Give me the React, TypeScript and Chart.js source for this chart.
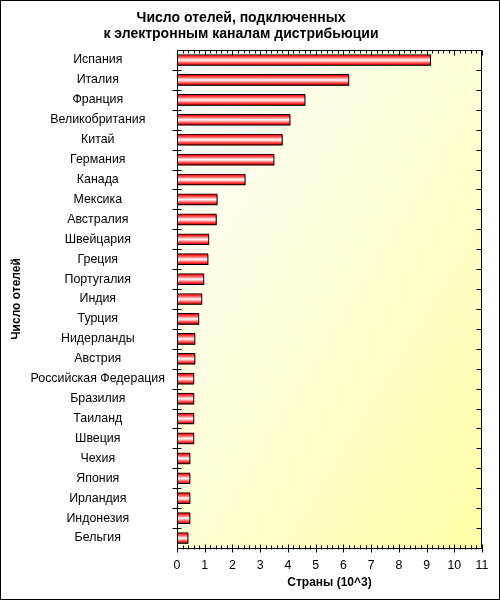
import React, { useEffect, useRef } from "react";
import { Chart, registerables } from "chart.js";

Chart.register(...registerables);

const categories = [
  "Испания", "Италия", "Франция", "Великобритания", "Китай", "Германия", "Канада",
  "Мексика", "Австралия", "Швейцария", "Греция", "Португалия", "Индия", "Турция",
  "Нидерланды", "Австрия", "Российская Федерация", "Бразилия", "Таиланд", "Швеция",
  "Чехия", "Япония", "Ирландия", "Индонезия", "Бельгия",
];
const hotels = [
  9.15, 6.2, 4.62, 4.08, 3.8, 3.5, 2.46, 1.45, 1.42, 1.15, 1.12, 0.97, 0.9, 0.79,
  0.65, 0.65, 0.61, 0.61, 0.61, 0.61, 0.47, 0.47, 0.47, 0.47, 0.4,
];
const titleLines = ["Число отелей, подключенных", "к электронным каналам дистрибьюции"];
const xTitle = "Страны (10^3)";
const yTitle = "Число отелей";
const xMin = 0;
const xMax = 11;

const FONT = "'Liberation Sans', Arial, sans-serif";

const framePlugin = {
  id: "frame",
  beforeDraw(chart: any) {
    const { ctx, chartArea: a } = chart;
    const w = a.right - a.left;
    const h = a.bottom - a.top;
    const k = (2 * w * h) / (w * w + h * h);
    ctx.save();
    const g = ctx.createLinearGradient(a.left, a.top, a.left + h * k, a.top + w * k);
    g.addColorStop(0, "#ffffff");
    g.addColorStop(0.5, "#ffffd6");
    g.addColorStop(1, "#ffffa6");
    ctx.fillStyle = g;
    ctx.fillRect(a.left, a.top, w, h);
    ctx.restore();
  },
  beforeDatasetsDraw(chart: any) {
    const ctx = chart.ctx;
    ctx.save();
    ctx.shadowColor = "rgba(0,0,0,0.6)";
    ctx.shadowOffsetX = 1;
    ctx.shadowOffsetY = 1;
    ctx.shadowBlur = 0;
  },
  afterDatasetsDraw(chart: any) {
    chart.ctx.restore();
  },
  afterDraw(chart: any) {
    const { ctx, chartArea: a, scales } = chart;
    const x = scales.x;
    const y = scales.y;
    ctx.save();
    ctx.strokeStyle = "#000";
    ctx.lineWidth = 1;
    const L = Math.round(a.left) + 0.5;
    const R = Math.round(a.right) - 0.5;
    const T = Math.round(a.top) + 0.5;
    const B = Math.round(a.bottom) + 0.5;
    ctx.beginPath();
    ctx.moveTo(L, T); ctx.lineTo(R, T); ctx.lineTo(R, B); ctx.lineTo(L, B); ctx.closePath();
    ctx.stroke();
    ctx.beginPath();
    for (let i = xMin * 5; i <= xMax * 5; i++) {
      const v = i / 5;
      const px = Math.round(x.getPixelForValue(v)) + 0.5;
      const major = i % 5 === 0;
      ctx.moveTo(px, T);
      ctx.lineTo(px, T + (major ? 5 : 3));
      if (major) {
        ctx.moveTo(px, B - 4);
        ctx.lineTo(px, B + 4);
      } else {
        ctx.moveTo(px, B - 3);
        ctx.lineTo(px, B + 1);
      }
    }
    for (let i = 1; i < categories.length; i++) {
      const py = Math.round((y.getPixelForValue(i - 1) + y.getPixelForValue(i)) / 2) + 0.5;
      ctx.moveTo(L - 5, py);
      ctx.lineTo(L + 4, py);
      ctx.moveTo(R - 5, py);
      ctx.lineTo(R, py);
    }
    ctx.stroke();
    ctx.restore();
  },
};

function barFill(c: any) {
  const chart = c.chart;
  const ys = chart.scales && chart.scales.y;
  if (c.type !== "data" || !ys || ys.top == null) return "#ff6666";
  const center = ys.getPixelForValue(c.dataIndex);
  const g = chart.ctx.createLinearGradient(0, center - 5, 0, center + 5);
  g.addColorStop(0, "#ff0000");
  g.addColorStop(0.2, "#ff4848");
  g.addColorStop(0.38, "#ffb0b0");
  g.addColorStop(0.5, "#ffffff");
  g.addColorStop(0.64, "#ffb8b8");
  g.addColorStop(0.82, "#ff4040");
  g.addColorStop(1, "#e00000");
  return g;
}

export default function App() {
  const ref = useRef<HTMLCanvasElement | null>(null);
  useEffect(() => {
    if (!ref.current) return;
    const chart = new Chart(ref.current, {
      type: "bar",
      data: {
        labels: categories,
        datasets: [
          {
            data: hotels,
            backgroundColor: barFill as any,
            borderColor: "#000000",
            borderWidth: 1,
            barThickness: 11,
            borderSkipped: false,
          },
        ],
      },
      options: {
        indexAxis: "y",
        animation: false,
        responsive: false,
        devicePixelRatio: 1,
        layout: { padding: { left: 0, right: 18, top: 0, bottom: 0 } },
        plugins: {
          legend: { display: false },
          tooltip: { enabled: false },
          title: {
            display: true,
            text: titleLines,
            color: "#000",
            font: { family: FONT, size: 14, weight: "bold", lineHeight: "16px" },
            padding: { top: 10, bottom: 8 },
          },
        },
        scales: {
          x: {
            type: "linear",
            min: xMin,
            max: xMax,
            grid: { display: false, drawTicks: false },
            border: { display: false },
            ticks: {
              stepSize: 1,
              color: "#000",
              padding: 10,
              font: { family: FONT, size: 12.3 },
            },
            title: {
              display: true,
              text: xTitle,
              color: "#000",
              font: { family: FONT, size: 12, weight: "bold" },
              padding: { top: 0, bottom: 10 },
            },
            afterFit: (s: any) => {
              s.height = 52;
            },
          },
          y: {
            grid: { display: false, drawTicks: false },
            border: { display: false },
            ticks: {
              color: "#000",
              crossAlign: "center",
              padding: 12,
              autoSkip: false,
              font: { family: FONT, size: 12.4 },
            },
            title: {
              display: true,
              text: yTitle,
              color: "#000",
              font: { family: FONT, size: 12, weight: "bold" },
              padding: { top: 9, bottom: 0 },
            },
            afterFit: (s: any) => {
              s.width = 177;
            },
          },
        },
      },
      plugins: [framePlugin],
    });
    return () => chart.destroy();
  }, []);
  return (
    <div style={{ position: "absolute", left: 0, top: 0, width: 500, height: 600, background: "#fff" }}>
      <canvas ref={ref} width={500} height={600} style={{ display: "block", width: 500, height: 600 }} />
      <div
        style={{
          position: "absolute",
          left: 0,
          top: 0,
          width: 500,
          height: 600,
          border: "1px solid #000",
          boxSizing: "border-box",
          pointerEvents: "none",
        }}
      />
    </div>
  );
}
